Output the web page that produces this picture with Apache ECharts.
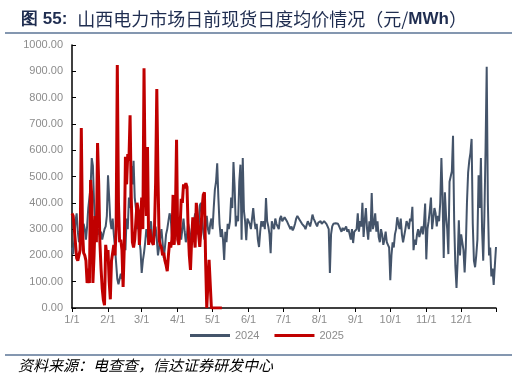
<!DOCTYPE html>
<html>
<head>
<meta charset="utf-8">
<script src="https://cdn.jsdelivr.net/npm/echarts@6/dist/echarts.min.js"></script>
<style>
  html, body { margin: 0; padding: 0; background: #fff; }
  #chart { width: 517px; height: 380px; }
</style>
</head>
<body>
<div id="chart"></div>
<script>
// x axis runs over a leap year, month/day labels
const monthDays = [31, 29, 31, 30, 31, 30, 31, 31, 30, 31, 30, 31];
const dates = [];
monthDays.forEach((n, m) => {
  for (let d = 1; d <= n; d++) dates.push((m + 1) + '/' + d);
});

const yTicks = [0, 100, 200, 300, 400, 500, 600, 700, 800, 900, 1000];

// 2024 daily price, one array per month
const jan24 = [230, 205, 260, 330, 360, 290, 250, 270, 300, 280, 320, 300, 260, 310, 380, 420, 460, 570, 540, 400, 330, 290, 280, 300, 270, 290, 260, 280, 300, 310, 350];
const feb24 = [505, 420, 330, 300, 340, 280, 230, 170, 110, 90, 95, 130, 110, 200, 250, 220, 340, 300, 420, 380, 540, 470, 560, 420, 380, 300, 340, 260, 220];
const mar24 = [133, 180, 210, 250, 300, 280, 240, 300, 330, 270, 240, 280, 310, 260, 200, 230, 270, 300, 250, 190, 230, 280, 300, 330, 360, 340, 280, 250, 300, 270, 280];
const apr24 = [300, 270, 320, 260, 300, 340, 290, 250, 280, 320, 300, 270, 240, 290, 330, 360, 310, 280, 300, 390, 400, 340, 290, 260, 310, 350, 300, 280, 320, 340];
const may24 = [300, 380, 450, 480, 550, 420, 320, 270, 300, 260, 183, 290, 250, 320, 300, 330, 420, 380, 555, 460, 310, 350, 330, 480, 545, 260, 570, 370, 330, 258, 340];
const jun24 = [345, 320, 300, 340, 380, 330, 300, 320, 260, 232, 290, 330, 310, 330, 300, 418, 330, 310, 280, 208, 330, 310, 300, 340, 320, 315, 300, 340, 350, 330];
const jul24 = [330, 345, 340, 330, 320, 310, 300, 310, 295, 305, 320, 340, 350, 345, 335, 330, 320, 325, 310, 300, 315, 330, 320, 310, 330, 355, 340, 330, 320, 310, 325];
const aug24 = [325, 330, 320, 315, 330, 335, 320, 310, 300, 133, 280, 310, 320, 325, 322, 318, 320, 310, 300, 290, 305, 295, 300, 310, 290, 300, 280, 260, 300, 247, 290];
const sep24 = [290, 300, 360, 290, 330, 310, 400, 270, 330, 380, 300, 260, 330, 290, 437, 300, 320, 360, 290, 330, 270, 250, 300, 280, 240, 260, 290, 250, 240, 230];
const oct24 = [106, 200, 250, 230, 280, 300, 345, 320, 300, 340, 280, 250, 247, 300, 330, 320, 300, 340, 330, 385, 220, 260, 240, 280, 300, 270, 290, 310, 280, 320, 397];
const nov24 = [185, 300, 330, 370, 420, 300, 340, 380, 360, 310, 350, 330, 400, 570, 420, 190, 440, 350, 300, 205, 480, 500, 520, 655, 330, 160, 76, 180, 334, 200];
const dec24 = [280, 250, 220, 135, 230, 400, 515, 560, 590, 643, 320, 180, 155, 200, 260, 505, 380, 570, 300, 180, 350, 600, 917, 400, 200, 230, 120, 150, 88, 160, 232];

// 2025 daily price (to early May)
const jan25 = [360, 350, 300, 245, 190, 180, 200, 220, 684, 300, 210, 200, 180, 95, 150, 95, 487, 430, 95, 200, 350, 250, 627, 470, 250, 150, 75, 30, 11, 240, 200];
const feb25 = [220, 100, 33, 180, 180, 240, 200, 300, 924, 400, 250, 260, 220, 80, 230, 575, 470, 585, 560, 733, 420, 250, 230, 260, 330, 400, 370, 240];
const mar25 = [320, 420, 300, 912, 480, 350, 612, 240, 300, 260, 250, 240, 300, 480, 833, 500, 260, 240, 230, 200, 210, 180, 163, 140, 200, 250, 230, 260, 430, 240, 350];
const apr25 = [640, 260, 240, 300, 415, 400, 470, 455, 475, 460, 300, 200, 145, 260, 345, 280, 230, 400, 350, 280, 232, 300, 380, 430, 440, 183, 0, 0, 183, 190];
const may25 = [0, 0, 0, 0, 0, 0, 0, 0, 0, 0];

const data2024 = [].concat(jan24, feb24, mar24, apr24, may24, jun24, jul24, aug24, sep24, oct24, nov24, dec24);
const data2025 = [].concat(jan25, feb25, mar25, apr25, may25);

const isMonthStart = (i) => dates[i].split('/')[1] === '1';

const chart = echarts.init(document.getElementById('chart'), null, { renderer: 'canvas' });

chart.setOption({
  animation: false,
  backgroundColor: '#fff',
  title: {
    left: 16,
    top: 5,
    text: '{a|图 55:}  {b|山西电力市场日前现货日度均价情况（元/}{a|MWh}{b|）}',
    textStyle: {
      rich: {
        a: { fontFamily: 'Liberation Sans', fontWeight: 'bold', fontSize: 17, color: '#1f2d50' },
        b: { fontFamily: 'Noto Sans CJK SC', fontWeight: 'normal', fontSize: 18, color: '#1f2d50' }
      }
    }
  },
  graphic: [
    { type: 'rect', shape: { x: 5, y: 32, width: 507, height: 2 }, style: { fill: '#8497b0' } },
    { type: 'rect', shape: { x: 5, y: 354, width: 507, height: 2 }, style: { fill: '#8497b0' } },
    {
      type: 'text', left: 18, top: 358,
      style: { text: '资料来源：电查查，信达证券研发中心', font: 'italic 15px "Noto Sans CJK SC"', fill: '#000' }
    }
  ],
  legend: {
    left: 185,
    top: 325,
    itemWidth: 40,
    itemHeight: 3,
    itemGap: 15,
    icon: 'rect',
    textStyle: { color: '#8c8c8c', fontSize: 11, fontFamily: 'Liberation Sans' },
    data: ['2024', '2025']
  },
  grid: {
    left: 72,
    right: 21,
    top: 45,
    bottom: 72
  },
  xAxis: {
    type: 'category',
    data: dates,
    boundaryGap: false,
    axisLine: { lineStyle: { color: '#000', width: 1.5 } },
    axisTick: {
      length: 4,
      interval: (i) => isMonthStart(i) || i === dates.length - 1,
      lineStyle: { color: '#000' }
    },
    axisLabel: {
      interval: (i) => isMonthStart(i),
      color: '#8c8c8c',
      fontSize: 11,
      fontFamily: 'Liberation Sans',
      margin: 6
    },
    splitLine: { show: false }
  },
  yAxis: {
    type: 'value',
    min: yTicks[0],
    max: yTicks[yTicks.length - 1],
    interval: 100,
    axisLine: { show: true, lineStyle: { color: '#000', width: 1.5 } },
    axisTick: { show: true, inside: true, length: 4, lineStyle: { color: '#000' } },
    axisLabel: {
      color: '#8c8c8c',
      fontSize: 11,
      fontFamily: 'Liberation Sans',
      margin: 9,
      formatter: (v) => v.toFixed(2)
    },
    splitLine: { show: false }
  },
  series: [
    {
      name: '2024',
      type: 'line',
      data: data2024,
      showSymbol: false,
      color: '#44546a',
      lineStyle: { color: '#44546a', width: 2 }
    },
    {
      name: '2025',
      type: 'line',
      data: data2025,
      showSymbol: false,
      color: '#c00000',
      lineStyle: { color: '#c00000', width: 3 }
    }
  ]
});
</script>
</body>
</html>
